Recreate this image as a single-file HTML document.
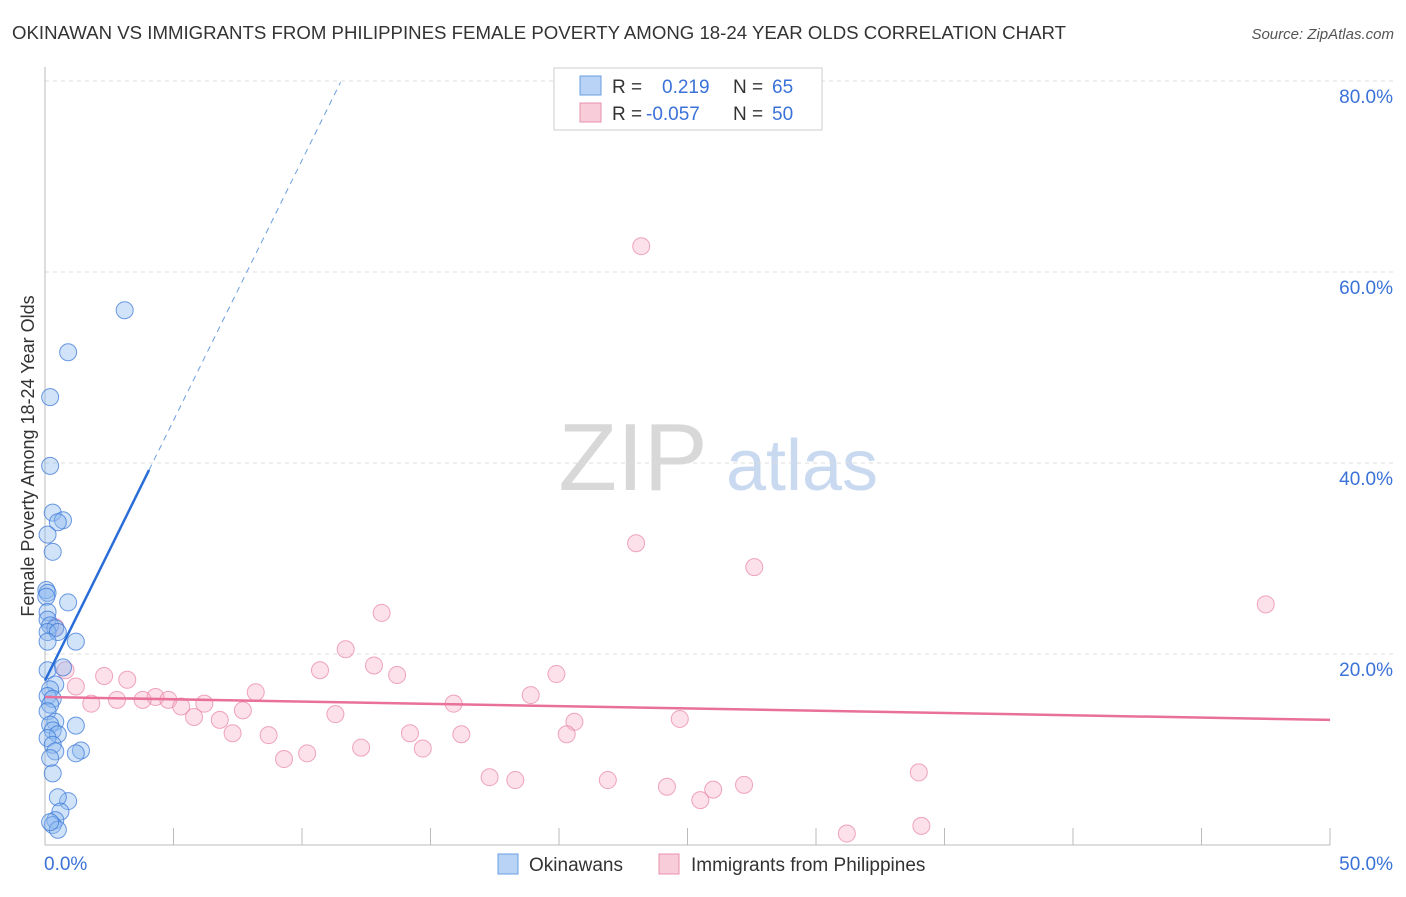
<!DOCTYPE html>
<html><head><meta charset="utf-8"><style>
body{margin:0;background:#fff;font-family:"Liberation Sans",sans-serif}
svg text{font-family:"Liberation Sans",sans-serif}
</style></head><body>
<svg id="c" width="1406" height="892">
<text x="12" y="39" font-size="18" fill="#333" textLength="1054" lengthAdjust="spacingAndGlyphs">OKINAWAN VS IMMIGRANTS FROM PHILIPPINES FEMALE POVERTY AMONG 18-24 YEAR OLDS CORRELATION CHART</text>
<text x="1394" y="39" font-size="15" fill="#555" font-style="italic" text-anchor="end">Source: ZipAtlas.com</text>
<text transform="translate(34,456) rotate(-90)" font-size="18" fill="#333" text-anchor="middle">Female Poverty Among 18-24 Year Olds</text>
<g><text x="633" y="490" font-size="96" fill="#d8d8d8" font-family="Liberation Serif" text-anchor="middle">ZIP</text><text x="802" y="490" font-size="72" fill="#c8d9f0" text-anchor="middle">atlas</text></g>
<g id="grid"></g><g id="marks"></g>
<rect x="554" y="68" width="268" height="62" fill="#fff" stroke="#ccc"/>
<rect x="580" y="76" width="21" height="19" fill="#b8d3f5" stroke="#6a9ee0"/>
<rect x="580" y="103" width="21" height="19" fill="#f9ccd9" stroke="#e890ac"/>
<text x="612" y="93" font-size="19" fill="#333">R = <tspan x="662" fill="#3a72d8">0.219</tspan><tspan x="733" fill="#333">N = </tspan><tspan x="772" fill="#3a72d8">65</tspan></text>
<text x="612" y="120" font-size="19" fill="#333">R = <tspan x="646" fill="#3a72d8">-0.057</tspan><tspan x="733" fill="#333">N = </tspan><tspan x="772" fill="#3a72d8">50</tspan></text>
<rect x="498" y="854" width="20" height="20" fill="#b8d3f5" stroke="#6a9ee0"/>
<text x="529" y="871" font-size="19" fill="#333">Okinawans</text>
<rect x="659" y="854" width="20" height="20" fill="#f9ccd9" stroke="#e890ac"/>
<text x="691" y="871" font-size="19" fill="#333">Immigrants from Philippines</text>
</svg>
<script>
const yTicks=[20,40,60,80];
const xTickLabels=["0.0%","50.0%"];
const blueX=[3.1,0.9,0.2,0.2,0.3,0.7,0.5,0.1,0.3,0.05,0.1,0.05,0.9,0.1,0.1,0.2,0.4,0.1,0.5,1.2,0.1,0.7,0.1,0.4,0.2,0.1,0.3,0.2,0.1,0.4,0.2,1.2,0.3,0.5,0.1,0.3,0.4,1.4,1.2,0.2,0.3,0.9,0.5,0.6,0.4,0.3,0.5,0.2];
const blueY=[56.0,51.6,46.9,39.7,34.8,34.0,33.8,32.5,30.7,26.7,26.4,26.0,25.4,24.4,23.6,23.0,22.7,22.3,22.3,21.3,21.3,18.6,18.3,16.8,16.3,15.6,15.3,14.7,14.0,12.9,12.6,12.5,12.0,11.6,11.2,10.5,9.8,9.9,9.6,9.1,7.5,4.6,5.0,3.5,2.6,2.1,1.6,2.4];
const pinkX=[23.2,23.0,27.6,47.5,13.1,11.7,12.8,10.7,13.7,19.9,0.8,2.3,3.2,1.2,8.2,18.9,4.3,3.8,2.8,4.8,1.8,6.2,5.3,15.9,7.7,5.8,11.3,24.7,20.6,6.8,7.3,8.7,14.2,16.2,20.3,12.3,14.7,10.2,9.3,17.3,18.3,21.9,34.0,24.2,27.2,26.0,25.5,31.2,34.1,0.4];
const pinkY=[62.7,31.6,29.1,25.2,24.3,20.5,18.8,18.3,17.8,17.9,18.3,17.7,17.3,16.6,16.0,15.7,15.5,15.2,15.2,15.2,14.8,14.8,14.5,14.8,14.1,13.4,13.7,13.2,12.9,13.1,11.7,11.5,11.7,11.6,11.6,10.2,10.1,9.6,9.0,7.1,6.8,6.8,7.6,6.1,6.3,5.8,4.7,1.2,2.0,22.8];
const blueTrend=[17.2,5.45];
const pinkTrend=[15.5,-0.048];
const NS="http://www.w3.org/2000/svg";
const X=v=>45+v/50*1285, Y=v=>845-v/80*764;
function mk(t,a,p){const e=document.createElementNS(NS,t);for(const k in a)e.setAttribute(k,a[k]);(p||document.getElementById('marks')).appendChild(e);return e;}
const g=document.getElementById('grid');
yTicks.forEach(t=>{
 const l=mk('line',{x1:45,x2:1394,y1:Y(t),y2:Y(t),stroke:'#ddd','stroke-dasharray':'4,4'},g);
 
 
 const tx=mk('text',{x:1393,y:Y(t)+22,'font-size':19,fill:'#3a72d8','text-anchor':'end'},g);tx.textContent=t.toFixed(1)+'%';
 
 
});
for(let i=1;i<=10;i++){const l=mk('line',{x1:X(i*5),x2:X(i*5),y1:828,y2:845,stroke:'#bbb'},g);
 
 }
let ax=mk('line',{x1:45,x2:45,y1:67,y2:845,stroke:'#bbb'},g);


ax=mk('line',{x1:45,x2:1330,y1:845,y2:845,stroke:'#bbb'},g);


let t0=mk('text',{x:44,y:870,'font-size':19,fill:'#3a72d8'},g);t0.textContent=xTickLabels[0];


t0=mk('text',{x:1393,y:870,'font-size':19,fill:'#3a72d8','text-anchor':'end'},g);t0.textContent=xTickLabels[1];


pinkX.forEach((x,i)=>{const c=mk('circle',{cx:X(x),cy:Y(pinkY[i]),r:8.5,fill:'rgba(246,170,195,0.35)',stroke:'rgba(232,130,165,0.7)'});
 
 });
blueX.forEach((x,i)=>{const c=mk('circle',{cx:X(x),cy:Y(blueY[i]),r:8.5,fill:'rgba(140,185,240,0.4)',stroke:'rgba(60,120,215,0.75)'});
 
 });
const bx1=4.05,bx2=11.5;
let l=mk('line',{x1:X(0),y1:Y(blueTrend[0]),x2:X(bx1),y2:Y(blueTrend[0]+blueTrend[1]*bx1),stroke:'#2a6dd8','stroke-width':2.5});


l=mk('line',{x1:X(bx1),y1:Y(blueTrend[0]+blueTrend[1]*bx1),x2:X(bx2),y2:Y(blueTrend[0]+blueTrend[1]*bx2),stroke:'#6a9ee0','stroke-width':1,'stroke-dasharray':'6,5'});


l=mk('line',{x1:X(0),y1:Y(pinkTrend[0]),x2:X(50),y2:Y(pinkTrend[0]+pinkTrend[1]*50),stroke:'#e8709a','stroke-width':2.5});


</script>
</body></html>
